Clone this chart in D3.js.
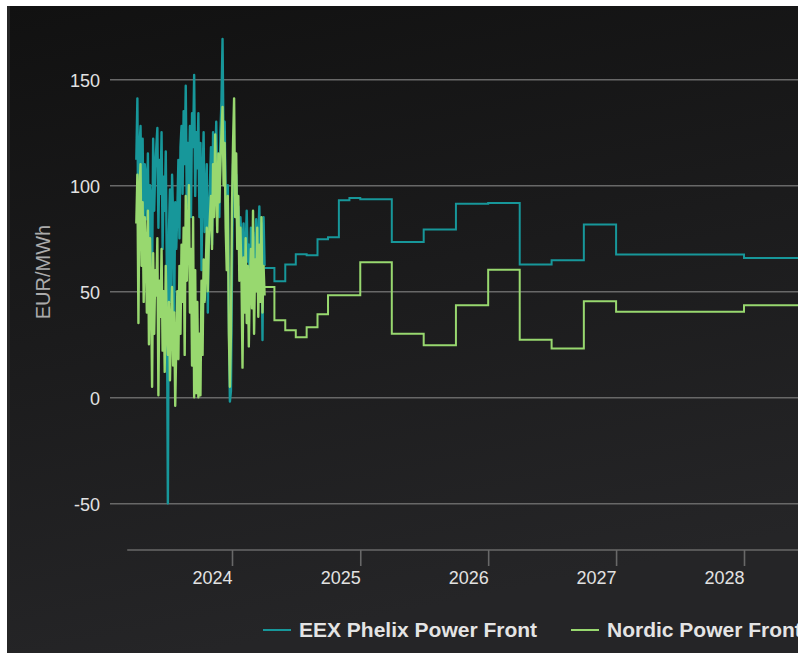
<!DOCTYPE html>
<html>
<head>
<meta charset="utf-8">
<script src="https://cdn.jsdelivr.net/npm/d3@7"></script>
<style>
  body { margin: 0; background: #fff; }
  svg { display: block; font-family: "Liberation Sans", Arial, sans-serif; }
</style>
</head>
<body>
<script>
const WIDTH = 798;
const HEIGHT = 653;

// daily spot history, one value every 3 days from 2023-04-03
var histStart = '2023-04-03';
var histStep = 3;
var eexHist = [
  112, 141, 60, 118, 128, 95, 122, 72, 110,
  105, 84, 115, 62, 100, 93, 55, 122, 88, 108,
  118, 127, 80, 112, 96, 125, 70, 104, 88, 116,
  60, -50, 78, 98, 45, 105, 86, 40, 92, 70,
  88, 112, 75, 118, 128, 96, 135, 110, 147, 90, 120,
  100, 128, 85, 134, 118, 152, 95, 125, 108, 134,
  85, 120, 60, 105, 125, 78, 95, 110, 40, 88,
  100, 118, 72, 125, 90, 108, 130, 96, 112, 85,
  125, 140, 169, 118, 130, 95, 75, 100, 40, -2,
  3, 60, 110, 115, 95, 105, 80, 90, 70, 85,
  75, 60, 82, 55, 70, 88, 64, 72, 50, 80,
  65, 78, 52, 70, 84, 60, 75, 90, 58, 82, 27, 85, 62
];
var nordHist = [
  82, 105, 35, 98, 110, 62, 92, 45, 85,
  70, 40, 88, 25, 75, 52, 5, 68, 30, 60,
  48, 75, 1, 55, 38, 70, 22, 50, 12, 62,
  30, 20, 45, 8, 35, 52, 15, 40, -4, 25,
  50, 18, 62, 30, 72, 45, 80, 20, 95, 55, 78,
  100, 40, 70, 15, 85, 0, 60, 2, 45, 0,
  30, 1, 55, 20, 65, 45, 60, 80, 50, 75,
  85, 95, 70, 110, 85, 124, 100, 78, 115, 92,
  110, 125, 137, 100, 120, 80, 60, 95, 30, 5,
  30, 90, 120, 141, 85, 115, 70, 95, 55, 80,
  58, 14, 66, 40, 75, 35, 62, 24, 55, 70,
  42, 88, 30, 65, 50, 80, 38, 72, 45, 85, 40, 62, 48
];

// forward curve: contract start dates and prices
var fwdDates = ['2024-04-03', '2024-05-01', '2024-06-01', '2024-07-01', '2024-08-01',
  '2024-09-01', '2024-10-01', '2024-11-01', '2024-12-01', '2025-01-01', '2025-04-01',
  '2025-07-01', '2025-10-01', '2026-01-01', '2026-04-01', '2026-07-01', '2026-10-01',
  '2027-01-01', '2028-01-01', '2029-01-01'];
var eexFwd = [61, 54.7, 62.7, 67.5, 67, 74.5, 75.5, 93, 94, 93.4, 73.3, 79.1, 91.3,
  91.6, 62.6, 64.6, 81.5, 67.3, 65.7, 65.7];
var nordFwd = [52, 36.3, 31.6, 28.3, 33, 39.2, 48.1, 48.1, 48.1, 63.7, 30, 24.5, 43.4,
  60.2, 27.2, 23, 45.3, 40.3, 43.4, 43.4];

var yTicks = [-50, 0, 50, 100, 150];
var xTicks = ['2024-01-01', '2025-01-01', '2026-01-01', '2027-01-01', '2028-01-01'];
var axisStart = '2023-03-08';
var seriesNames = ['EEX Phelix Power Front', 'Nordic Power Front'];
var seriesColors = ['#17979a', '#98d86f'];

var parse = d3.utcParse('%Y-%m-%d');

var svg = d3.select('body').append('svg')
  .attr('width', WIDTH)
  .attr('height', HEIGHT);

var defs = svg.append('defs');
var grad = defs.append('linearGradient').attr('id', 'bg')
  .attr('x1', 0).attr('y1', 0).attr('x2', 0.25).attr('y2', 1);
grad.append('stop').attr('offset', '0%').attr('stop-color', '#111111');
grad.append('stop').attr('offset', '100%').attr('stop-color', '#252527');
defs.append('clipPath').attr('id', 'plot')
  .append('rect').attr('x', 110).attr('y', 6).attr('width', WIDTH - 110).attr('height', 545);

svg.append('rect')
  .attr('x', 7).attr('y', 6)
  .attr('width', WIDTH - 7).attr('height', HEIGHT - 6)
  .attr('fill', 'url(#bg)');
svg.append('rect')
  .attr('x', 7).attr('y', 6).attr('width', 3).attr('height', HEIGHT - 6)
  .attr('fill', '#262626');

var x = d3.scaleUtc()
  .domain([parse('2024-01-01'), parse('2028-01-01')])
  .range([232, 744]);

var y = d3.scaleLinear()
  .domain([-50, 150])
  .range([503.3, 79.3]);

// grid + y labels
var yAxis = svg.append('g')
  .attr('transform', 'translate(110,0)')
  .call(d3.axisLeft(y).tickValues(yTicks).tickFormat(function(d) { return String(d); })
    .tickSize(-(WIDTH - 110)).tickPadding(10));
yAxis.select('.domain').remove();
yAxis.selectAll('line').attr('stroke', '#686868').attr('stroke-width', 1.6);
yAxis.selectAll('text')
  .attr('fill', '#e2e2e2')
  .attr('font-size', 18)
  .attr('dy', '0.42em');

// x axis
svg.append('line')
  .attr('x1', x(parse(axisStart))).attr('x2', WIDTH)
  .attr('y1', 550).attr('y2', 550)
  .attr('stroke', '#686868').attr('stroke-width', 1.6);
var xAxis = svg.append('g')
  .attr('transform', 'translate(0,550)')
  .call(d3.axisBottom(x).tickValues(xTicks.map(parse)).tickFormat(d3.utcFormat('%Y'))
    .tickSize(16).tickPadding(5).tickSizeOuter(0));
xAxis.select('.domain').remove();
xAxis.selectAll('line').attr('stroke', '#686868').attr('stroke-width', 1.6);
xAxis.selectAll('text')
  .attr('fill', '#e2e2e2')
  .attr('font-size', 18)
  .attr('text-anchor', 'end');

svg.append('text')
  .attr('transform', 'translate(50,272) rotate(-90)')
  .attr('text-anchor', 'middle')
  .attr('fill', '#ababab')
  .attr('font-size', 20)
  .text('EUR/MWh');

// lines
var t0 = parse(histStart);
var histLine = d3.line()
  .x(function(d, i) { return x(d3.utcDay.offset(t0, i * histStep)); })
  .y(function(d) { return y(d); });
var fwd = d3.line()
  .curve(d3.curveStepAfter)
  .x(function(d, i) { return x(parse(fwdDates[i])); })
  .y(function(d) { return y(d); });

var plot = svg.append('g').attr('clip-path', 'url(#plot)');
[[eexHist, eexFwd], [nordHist, nordFwd]].forEach(function(s, k) {
  plot.append('path')
    .attr('d', histLine(s[0]))
    .attr('fill', 'none')
    .attr('stroke', seriesColors[k])
    .attr('stroke-width', 2.4)
    .attr('stroke-linejoin', 'round');
  plot.append('path')
    .attr('d', fwd(s[1]))
    .attr('fill', 'none')
    .attr('stroke', seriesColors[k])
    .attr('stroke-width', 2);
});

// legend
var legendX = [263, 571];
seriesNames.forEach(function(name, k) {
  var g = svg.append('g').attr('transform', 'translate(' + legendX[k] + ',630)');
  g.append('line')
    .attr('x1', 0).attr('x2', 28)
    .attr('stroke', seriesColors[k]).attr('stroke-width', 2);
  g.append('text')
    .attr('x', 36).attr('y', 7)
    .attr('fill', '#e4e4e4')
    .attr('font-size', 21)
    .attr('font-weight', 'bold')
    .text(name);
});
</script>
</body>
</html>
